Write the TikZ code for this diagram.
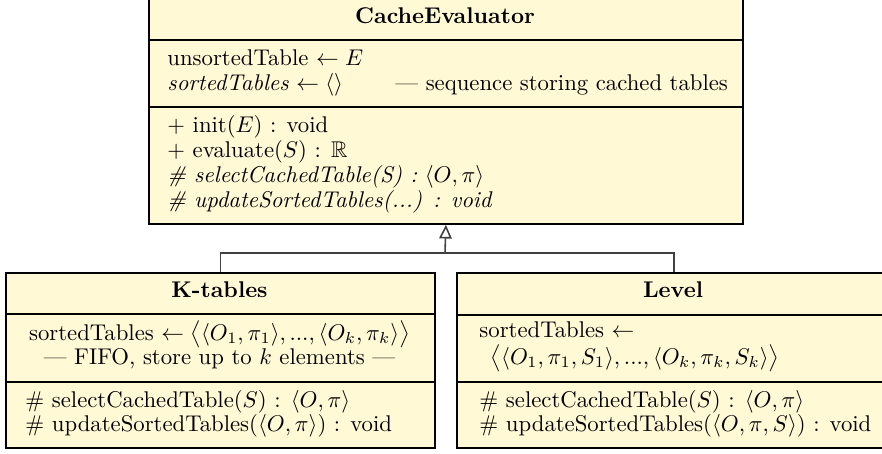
\documentclass[tikz,border=0pt]{standalone}
\usepackage{amssymb}
\usetikzlibrary{arrows.meta}
\definecolor{classfill}{RGB}{255,249,214}
\newcommand\pxu{0.44pt}
\begin{document}
\begin{tikzpicture}[x=0.44pt,y=-0.44pt,
  comp/.style={draw=black,line width=0.8pt,fill=classfill,inner sep=0pt,anchor=north west},
  txt/.style={inner sep=0pt,anchor=base west},
  ctxt/.style={inner sep=0pt,anchor=base},
  conn/.style={draw=black!75,line width=0.7pt}]
\useasboundingbox (0,0) rectangle (882,453);
\clip (0,0) rectangle (882,453);
% CacheEvaluator
\node[comp,minimum width=594*\pxu,minimum height=41*\pxu] (ceT) at (148,-2) {};
\node[comp,minimum width=594*\pxu,minimum height=67*\pxu] (ceA) at (148,39) {};
\node[comp,minimum width=594*\pxu,minimum height=117*\pxu] (ceM) at (148,106) {};
\node[ctxt] (ceTitle) at (445,23) {\textbf{CacheEvaluator}};
\node[txt] (ceA1) at (167,65) {unsortedTable $\leftarrow E$};
\node[txt] (ceA2) at (167,90) {\textit{sortedTables} $\leftarrow \langle\rangle$};
\node[txt] (ceA3) at (395,90) {--- sequence storing cached tables};
\node[txt] (ceM1) at (167,132) {+ init($E$) : void};
\node[txt] (ceM2) at (167,157) {+ evaluate($S$) : $\mathbb{R}$};
\node[txt] (ceM3) at (167,182) {\textit{\# selectCachedTable(S) :} $\langle O,\pi\rangle$};
\node[txt] (ceM4) at (167,207) {\textit{\# updateSortedTables(...) : void}};
% K-tables
\node[comp,minimum width=429*\pxu,minimum height=41*\pxu] (ktT) at (5,272) {};
\node[comp,minimum width=429*\pxu,minimum height=68*\pxu] (ktA) at (5,313) {};
\node[comp,minimum width=429*\pxu,minimum height=66*\pxu] (ktM) at (5,381) {};
\node[ctxt] (ktTitle) at (219.5,297) {\textbf{K-tables}};
\node[ctxt] (ktA1) at (219.5,340) {sortedTables $\leftarrow \big\langle\langle O_1,\pi_1\rangle, ..., \langle O_k,\pi_k\rangle\big\rangle$};
\node[ctxt] (ktA2) at (219.5,364) {--- FIFO, store up to $k$ elements ---};
\node[txt] (ktM1) at (25,407) {\# selectCachedTable($S$) : $\langle O,\pi\rangle$};
\node[txt] (ktM2) at (25,431) {\# updateSortedTables($\langle O,\pi\rangle$) : void};
% Level
\node[comp,minimum width=434*\pxu,minimum height=42*\pxu] (lvT) at (456,272) {};
\node[comp,minimum width=434*\pxu,minimum height=67*\pxu] (lvA) at (456,314) {};
\node[comp,minimum width=434*\pxu,minimum height=66*\pxu] (lvM) at (456,381) {};
\node[ctxt] (lvTitle) at (673,297) {\textbf{Level}};
\node[txt] (lvA1) at (479,337) {sortedTables $\leftarrow$};
\node[txt] (lvA2) at (490,364) {$\big\langle\langle O_1,\pi_1,S_1\rangle, ..., \langle O_k,\pi_k,S_k\rangle\big\rangle$};
\node[txt] (lvM1) at (479,407) {\# selectCachedTable($S$) : $\langle O,\pi\rangle$};
\node[txt] (lvM2) at (479,431) {\# updateSortedTables($\langle O,\pi,S\rangle$) : void};
% connectors
\coordinate (j) at (445,253);
\draw[conn] (ktT.north) |- (j) -| (lvT.north);
\draw[conn,-{Triangle[open,length=6pt,width=5.5pt]}] (j) -- (ceM.south);
\end{tikzpicture}
\end{document}
